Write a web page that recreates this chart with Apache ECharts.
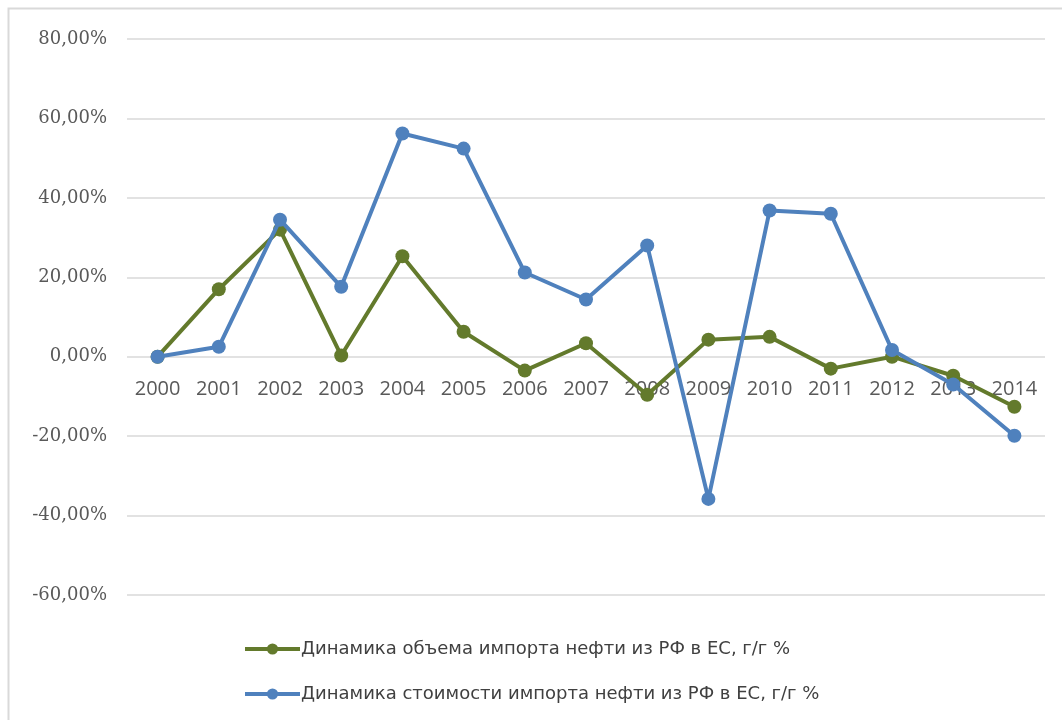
<!DOCTYPE html>
<html><head><meta charset="utf-8">
<script src="https://cdn.jsdelivr.net/npm/echarts@6/dist/echarts.min.js"></script>
<style>html,body{margin:0;padding:0;background:#fff}#c{width:1062px;height:720px}</style>
</head><body><div id="c"></div>
<script>
const years = ['2000','2001','2002','2003','2004','2005','2006','2007','2008','2009','2010','2011','2012','2013','2014'];
const volumeName = 'Динамика объема импорта нефти из РФ в ЕС, г/г %';
const valueName = 'Динамика стоимости импорта нефти из РФ в ЕС, г/г %';
const volume = [0, 17, 32, 0.3, 25.3, 6.3, -3.5, 3.4, -9.6, 4.3, 5, -3, 0, -4.8, -12.6];
const value = [0, 2.5, 34.5, 17.6, 56.2, 52.4, 21.2, 14.4, 28, -35.8, 36.8, 36, 1.7, -7, -19.9];
const yMin = -60, yMax = 80, yStep = 20;

const gridTop = 39, gridBottom = 125, H = 720;
const plotH = H - gridTop - gridBottom;
const zeroOffset = -plotH * (0 - yMin) / (yMax - yMin);

const chart = echarts.init(document.getElementById('c'), null, {renderer: 'canvas'});
chart.setOption({
  backgroundColor: '#fff',
  animation: false,
  graphic: [{type: 'rect', shape: {x: 8.5, y: 8.5, width: 1060, height: 720}, style: {fill: 'none', stroke: '#d9d9d9', lineWidth: 2}}],
  grid: {left: 127, right: 17, top: gridTop, bottom: gridBottom, containLabel: false},
  xAxis: {
    type: 'category', data: years, boundaryGap: true, position: 'bottom', offset: zeroOffset,
    axisLine: {show: false, onZero: false}, axisTick: {show: false},
    axisLabel: {color: '#595959', fontSize: 20, fontFamily: 'Open Sans', margin: 23}
  },
  yAxis: {
    type: 'value', min: yMin, max: yMax, interval: yStep,
    axisLine: {show: false}, axisTick: {show: false},
    splitLine: {lineStyle: {color: '#d9d9d9', width: 1.5}},
    axisLabel: {color: '#595959', fontSize: 18, fontFamily: 'DejaVu Serif', margin: 20,
      formatter: v => v.toFixed(2).replace('.', ',') + '%'}
  },
  legend: {
    orient: 'vertical', left: 243, top: 640, itemGap: 27, padding: 0,
    itemWidth: 55, itemHeight: 14,
    lineStyle: {width: 4},
    textStyle: {color: '#404040', fontSize: 18, fontFamily: 'DejaVu Sans', padding: [0, 0, 0, -4]},
    data: [volumeName, valueName]
  },
  series: [
    {name: volumeName, type: 'line', data: volume, symbol: 'circle', symbolSize: 14,
     itemStyle: {color: '#637a2c'}, lineStyle: {width: 4, color: '#637a2c'}, z: 2},
    {name: valueName, type: 'line', data: value, symbol: 'circle', symbolSize: 14,
     itemStyle: {color: '#4f81bd'}, lineStyle: {width: 4, color: '#4f81bd'}, z: 3}
  ]
});
</script></body></html>
